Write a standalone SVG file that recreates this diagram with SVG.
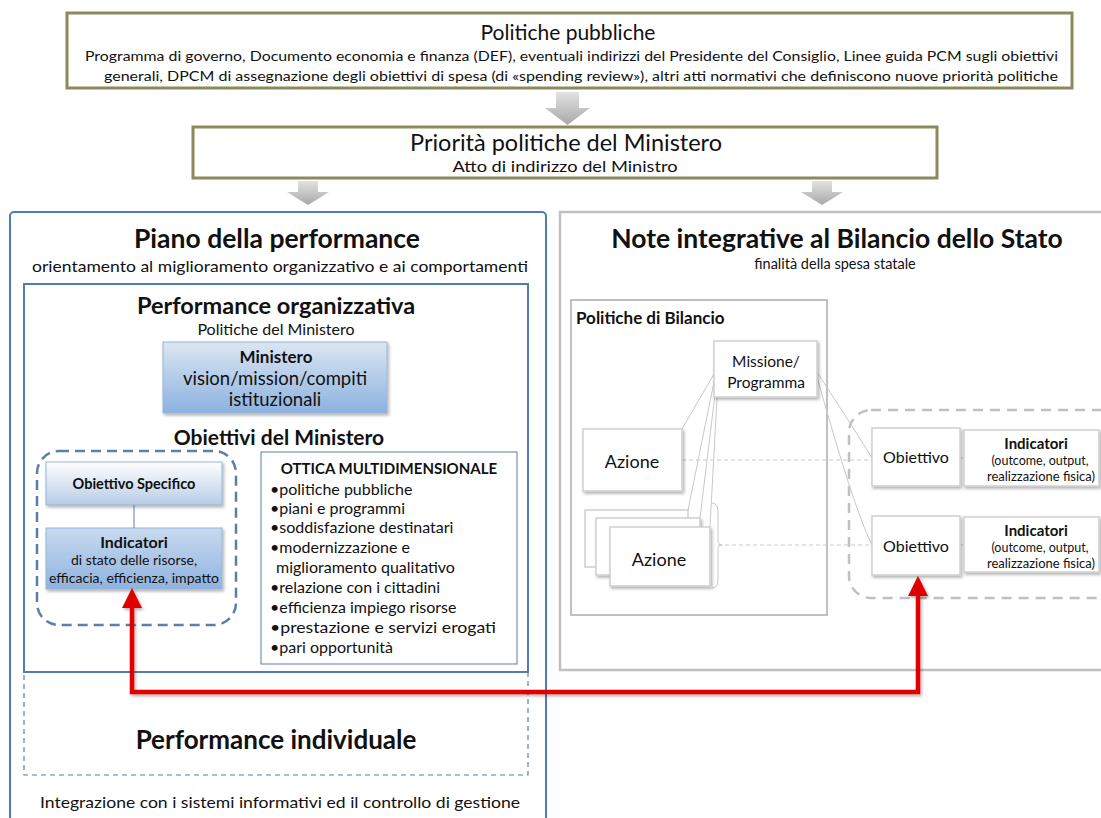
<svg xmlns="http://www.w3.org/2000/svg" width="1101" height="818" viewBox="0 0 1101 818">
<defs>
<style>
text{font-family:Lato,"Liberation Sans",sans-serif;fill:#111}
.b{font-weight:bold}
.olive{fill:#fff;stroke:#8a8a5c;stroke-width:3}
.blue{fill:none;stroke:#4f7db0;stroke-width:2}
.grey{fill:#fff;stroke:#c0c0c0;stroke-width:2.5}
.lg{fill:#fff;stroke:#cfcfcf;stroke-width:1.5}
.thin{fill:none;stroke:#c8c8c8;stroke-width:1}
.dsh{fill:none;stroke:#c8c8c8;stroke-width:1;stroke-dasharray:4,3}
.c{text-anchor:middle}
</style>
<linearGradient id="ga" x1="0" y1="0" x2="0" y2="1"><stop offset="0" stop-color="#e2e2e2"/><stop offset="1" stop-color="#a8a8a8"/></linearGradient>
<linearGradient id="gm" x1="0" y1="0" x2="0" y2="1"><stop offset="0" stop-color="#dce6f2"/><stop offset="1" stop-color="#8cb2e0"/></linearGradient>
<linearGradient id="go" x1="0" y1="0" x2="0" y2="1"><stop offset="0" stop-color="#ffffff"/><stop offset="1" stop-color="#b8cce6"/></linearGradient>
<linearGradient id="gi" x1="0" y1="0" x2="0" y2="1"><stop offset="0" stop-color="#c9daf0"/><stop offset="1" stop-color="#8fb3df"/></linearGradient>
<filter id="sh" x="-10%" y="-10%" width="130%" height="140%"><feDropShadow dx="1.5" dy="2" stdDeviation="1.5" flood-color="#000" flood-opacity="0.3"/></filter>
<marker id="ra" viewBox="0 0 10 10" refX="5" refY="5" markerWidth="4.5" markerHeight="4.5" orient="auto-start-reverse"><path d="M0,0 L10,5 L0,10 Z" fill="#e00000"/></marker>
</defs>

<g id="politiche-pubbliche">
<rect class="olive" x="67" y="13" width="1005" height="75"/>
<text class="c" x="568" y="40" font-size="21">Politiche pubbliche</text>
<text x="85" y="61" font-size="13.5" textLength="973" lengthAdjust="spacingAndGlyphs">Programma di governo, Documento economia e finanza (DEF), eventuali indirizzi del Presidente del Consiglio, Linee guida PCM sugli obiettivi</text>
<text x="104" y="81" font-size="13.5" textLength="954" lengthAdjust="spacingAndGlyphs">generali, DPCM di assegnazione degli obiettivi di spesa (di «spending review»), altri atti normativi che definiscono nuove priorità politiche</text>
</g>

<g id="arrows-grey">
<path d="M556,92 H579 V108 H590 L567.5,125 L545,108 H556 Z" fill="url(#ga)"/>
<path d="M298,181 H318 V192 H329 L308,205 L287,192 H298 Z" fill="url(#ga)"/>
<path d="M812,181 H832 V192 H843 L822,205 L801,192 H812 Z" fill="url(#ga)"/>
</g>

<g id="priorita">
<rect class="olive" x="193" y="127" width="744" height="51"/>
<text class="c" x="566" y="151" font-size="23" textLength="312" lengthAdjust="spacingAndGlyphs">Priorità politiche del Ministero</text>
<text class="c" x="565" y="172" font-size="16" textLength="225" lengthAdjust="spacingAndGlyphs">Atto di indirizzo del Ministro</text>
</g>

<g id="piano-performance">
<rect class="blue" x="10" y="212" width="536" height="620" rx="4"/>
<text class="c b" x="277" y="248" font-size="26.5">Piano della performance</text>
<text class="c" x="280" y="272" font-size="16" textLength="496" lengthAdjust="spacingAndGlyphs">orientamento al miglioramento organizzativo e ai comportamenti</text>
</g>

<g id="performance-organizzativa">
<rect class="blue" x="24" y="284" width="504" height="388"/>
<text class="c b" x="276" y="314" font-size="23.5">Performance organizzativa</text>
<text class="c" x="276" y="335" font-size="16">Politiche del Ministero</text>
</g>

<g id="ministero">
<rect x="163" y="342" width="224" height="71" fill="url(#gm)" stroke="#95b3d7" stroke-width="1" filter="url(#sh)"/>
<text class="c b" x="276" y="363" font-size="17">Ministero</text>
<text class="c" x="275" y="385" font-size="18.5">vision/mission/compiti</text>
<text class="c" x="275" y="406" font-size="18.5">istituzionali</text>
</g>

<g id="obiettivi-ministero">
<text class="c b" x="279" y="445" font-size="21">Obiettivi del Ministero</text>
<rect x="37" y="451" width="199" height="174" rx="22" fill="none" stroke="#5b7fa8" stroke-width="2.5" stroke-dasharray="10,6"/>
</g>

<g id="obiettivo-specifico">
<rect x="46" y="462" width="176" height="43" fill="url(#go)" stroke="#95b3d7" stroke-width="1" filter="url(#sh)"/>
<text class="c b" x="134" y="489" font-size="14.5">Obiettivo Specifico</text>
</g>

<g id="indicatori-left">
<rect x="46" y="528" width="176" height="61" fill="url(#gi)" stroke="#95b3d7" stroke-width="1" filter="url(#sh)"/>
<text class="c b" x="134" y="548" font-size="16">Indicatori</text>
<text class="c" x="134" y="565" font-size="14">di stato delle risorse,</text>
<text class="c" x="134" y="583" font-size="14" textLength="170" lengthAdjust="spacingAndGlyphs">efficacia, efficienza, impatto</text>
</g>

<g id="ottica">
<rect x="261" y="452" width="256" height="212" fill="#fff" stroke="#5b7fa8" stroke-width="1"/>
<text class="c b" x="389" y="474" font-size="15">OTTICA MULTIDIMENSIONALE</text>
<g font-size="16">
<text x="270" y="495">•politiche pubbliche</text>
<text x="270" y="514">•piani e programmi</text>
<text x="270" y="533">•soddisfazione destinatari</text>
<text x="270" y="553">•modernizzazione e</text>
<text x="276" y="573">miglioramento qualitativo</text>
<text x="270" y="593">•relazione con i cittadini</text>
<text x="270" y="613">•efficienza impiego risorse</text>
<text x="270" y="633" textLength="226" lengthAdjust="spacingAndGlyphs">•prestazione e servizi erogati</text>
<text x="270" y="653">•pari opportunità</text>
</g>
</g>

<g id="performance-individuale">
<rect x="24" y="672" width="504" height="103" fill="none" stroke="#5b7fa8" stroke-width="1.2" stroke-dasharray="5,4"/>
<text class="c b" x="276" y="749" font-size="26">Performance individuale</text>
<text class="c" x="280" y="808" font-size="16" textLength="480" lengthAdjust="spacingAndGlyphs">Integrazione con i sistemi informativi ed il controllo di gestione</text>
</g>

<g id="note-integrative">
<rect class="grey" x="560" y="212" width="560" height="458"/>
<text class="c b" x="837" y="248" font-size="26.5">Note integrative al Bilancio dello Stato</text>
<text class="c" x="835" y="269" font-size="14.5">finalità della spesa statale</text>
</g>

<g id="politiche-bilancio">
<rect x="571" y="300" width="256" height="315" fill="#fff" stroke="#c0c0c0" stroke-width="2"/>
<text x="576" y="324" font-size="17" class="b">Politiche di Bilancio</text>
</g>

<g id="obiettivi-container">
<rect x="849" y="410" width="280" height="188" rx="22" fill="none" stroke="#c0c0c0" stroke-width="2.5" stroke-dasharray="10,7"/>
</g>

<g id="connectors">
<path class="thin" d="M714,374 L682,429 M715,377 L688,510 M717,378 L700,518 M718,380 L710,527"/>
<path class="thin" d="M817,372 C835,400 855,430 872,458 M817,377 C835,440 855,510 872,545"/>
<path class="thin" d="M960,458 H964 M960,545 H964"/>
<path class="dsh" d="M682,460 H872 M718,545 H872"/>
<path d="M712,503 Q718,503 718,512 V540 Q718,545 722,545 Q718,545 718,550 V580 Q718,588 712,588" fill="none" stroke="#c8c8c8" stroke-width="1"/>
<line x1="134" y1="505" x2="134" y2="528" stroke="#5b7fa8" stroke-width="1"/>
</g>

<g id="missione">
<rect class="lg" x="714" y="341" width="103" height="56" filter="url(#sh)"/>
<text class="c" x="766" y="367" font-size="15.5">Missione/</text>
<text class="c" x="766" y="388" font-size="15.5">Programma</text>
</g>

<g id="azione-1">
<rect class="lg" x="583" y="429" width="99" height="62" filter="url(#sh)"/>
<text class="c" x="632" y="468" font-size="18">Azione</text>
</g>

<g id="azione-stack">
<rect class="lg" x="585" y="510" width="103" height="57"/>
<rect class="lg" x="596" y="518" width="104" height="57" filter="url(#sh)"/>
<rect class="lg" x="610" y="527" width="100" height="59" filter="url(#sh)"/>
<text class="c" x="659" y="566" font-size="18">Azione</text>
</g>

<g id="obiettivo-1">
<rect class="lg" x="872" y="428" width="88" height="58" filter="url(#sh)"/>
<text class="c" x="916" y="463" font-size="16">Obiettivo</text>
</g>
<g id="indicatori-1">
<rect class="lg" x="964" y="430" width="135" height="56" filter="url(#sh)"/>
<text class="c b" x="1036" y="449" font-size="15">Indicatori</text>
<text class="c" x="1040" y="465" font-size="12.5">(outcome,  output,</text>
<text class="c" x="1041" y="481" font-size="12.5" textLength="108" lengthAdjust="spacingAndGlyphs">realizzazione fisica)</text>
</g>
<g id="obiettivo-2">
<rect class="lg" x="872" y="516" width="88" height="59" filter="url(#sh)"/>
<text class="c" x="916" y="552" font-size="16">Obiettivo</text>
</g>
<g id="indicatori-2">
<rect class="lg" x="964" y="517" width="135" height="55" filter="url(#sh)"/>
<text class="c b" x="1036" y="536" font-size="15">Indicatori</text>
<text class="c" x="1040" y="552" font-size="12.5">(outcome,  output,</text>
<text class="c" x="1041" y="568" font-size="12.5" textLength="108" lengthAdjust="spacingAndGlyphs">realizzazione fisica)</text>
</g>

<g id="red-connector">
<path d="M132,598 V692 H918 V586" fill="none" stroke="#e00000" stroke-width="4.5" stroke-linejoin="miter" marker-start="url(#ra)" marker-end="url(#ra)" filter="url(#sh)"/>
</g>
</svg>
